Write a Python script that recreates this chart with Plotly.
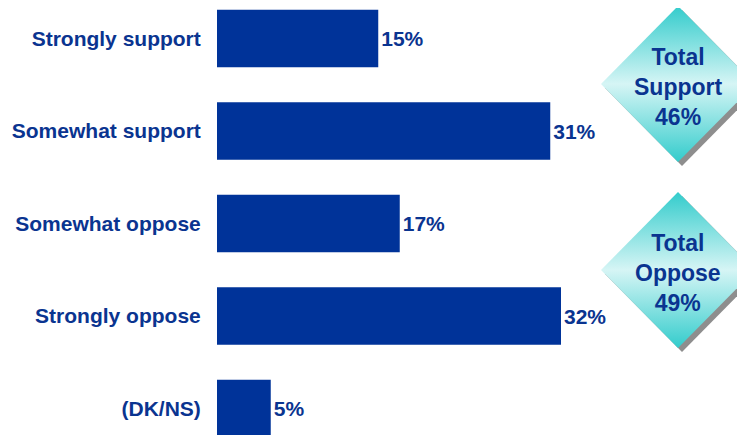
import plotly.graph_objects as go

# ---- data ----
categories = ["Strongly support", "Somewhat support", "Somewhat oppose", "Strongly oppose", "(DK/NS)"]
values = [15, 31, 17, 32, 5]
support_idx = [0, 1]
oppose_idx = [2, 3]
group_names = ["Support", "Oppose"]

# ---- style / layout constants ----
PAGE = 8                       # browser body margin
W, H = 745 - PAGE, 435 - PAGE
FONT = "Arial, Liberation Sans, sans-serif"
NAVY = "#003399"
TEXT = "#0a3490"
PX_PER_PCT = 10.75
BAR_LEFT = 217 - PAGE
ROW0, ROW_STEP = 38.5 - PAGE, 92.5

fig = go.Figure()

fig.add_trace(go.Bar(
    y=categories, x=values, orientation="h",
    marker=dict(color=NAVY, line=dict(width=0)),
    text=[f"{v}%" for v in values], textposition="outside",
    textfont=dict(size=21, color=TEXT, family=FONT, weight="bold"),
    cliponaxis=False, hoverinfo="skip", showlegend=False,
))

# diamonds (decorations in pixel space)
diamonds = [(678 - PAGE, 84 - PAGE, 77, 78), (678 - PAGE, 270 - PAGE, 77, 78)]
totals = [sum(values[i] for i in support_idx), sum(values[i] for i in oppose_idx)]
for (cx, cy, hw, hh), name, tot in zip(diamonds, group_names, totals):
    sx, sy = 4, 4
    fig.add_trace(go.Scatter(
        x=[cx + sx, cx + hw + sx, cx + sx, cx - hw + sx, cx + sx],
        y=[cy - hh + sy, cy + sy, cy + hh + sy, cy + sy, cy - hh + sy],
        xaxis="x2", yaxis="y2", mode="lines", fill="toself",
        fillcolor="#8e8e8e", line=dict(width=0), hoverinfo="skip", showlegend=False,
    ))
    fig.add_trace(go.Scatter(
        x=[cx, cx + hw, cx, cx - hw, cx],
        y=[cy - hh, cy, cy + hh, cy, cy - hh],
        xaxis="x2", yaxis="y2", mode="lines", fill="toself",
        fillgradient=dict(type="vertical",
                          colorscale=[[0, "#33cccc"], [0.5, "#d6f5f5"], [1, "#33cccc"]]),
        line=dict(width=0), hoverinfo="skip", showlegend=False,
    ))
    fig.add_annotation(
        x=cx, y=cy + 3, xref="x2", yref="y2", showarrow=False,
        text=f"Total<br>{name}<br>{tot}%",
        font=dict(size=23, color=TEXT, family=FONT, weight="bold"), align="center",
    )

y_top = -ROW0 / ROW_STEP
y_bot = (H - ROW0) / ROW_STEP

fig.update_layout(
    width=W, height=H,
    margin=dict(l=0, r=0, t=0, b=0),
    paper_bgcolor="white", plot_bgcolor="rgba(0,0,0,0)",
    bargap=0.38,
    xaxis=dict(domain=[BAR_LEFT / W, 1], range=[0, (W - BAR_LEFT) / PX_PER_PCT],
               showgrid=False, zeroline=False, showline=False, showticklabels=False,
               ticks="", fixedrange=True),
    yaxis=dict(type="category", categoryorder="array", categoryarray=categories,
               range=[y_bot, y_top],
               showgrid=False, zeroline=False, showline=False,
               ticks="outside", ticklen=11, tickcolor="rgba(0,0,0,0)",
               tickfont=dict(size=21, color=TEXT, family=FONT, weight="bold"),
               fixedrange=True),
    xaxis2=dict(domain=[0, 1], range=[0, W], visible=False, anchor="y2", fixedrange=True),
    yaxis2=dict(domain=[0, 1], range=[H, 0], visible=False, anchor="x2", fixedrange=True),
    font=dict(family=FONT),
)

fig.write_html("out.html")
